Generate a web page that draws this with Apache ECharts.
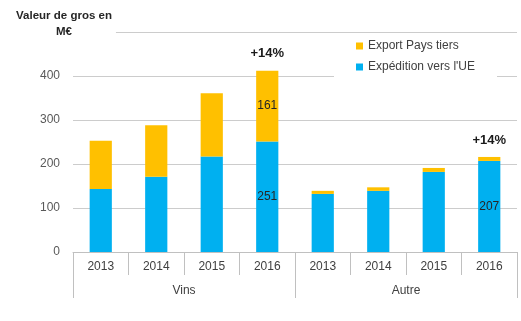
<!DOCTYPE html>
<html>
<head>
<meta charset="utf-8">
<script src="https://cdn.jsdelivr.net/npm/echarts@6/dist/echarts.min.js"></script>
<style>
  html, body { margin: 0; padding: 0; background: #fff; }
  #chart { width: 521px; height: 321px; }
</style>
</head>
<body>
<div id="chart"></div>
<script>
// Years shown under each bar, grouped by product family
const years = ['2013', '2014', '2015', '2016', '2013', '2014', '2015', '2016'];
const groups = ['Vins', 'Autre'];

// Values in M€ (wholesale value)
const expeditionUE = [143, 171, 217, 251, 132, 139, 182, 207];
const exportTiers = [110, 117, 144, 161, 7, 8, 9, 9];

// Growth notes above the last year of each group
const growthNotes = ['', '', '', '+14%', '', '', '', '+14%'];

// Values written inside the bars
const ueLabelShown = [false, false, false, true, false, false, false, true];
const tiersLabelShown = [false, false, false, true, false, false, false, false];

const yTicks = [0, 100, 200, 300, 400, 500];

const FONT = '"Liberation Sans", Arial, sans-serif';

const chart = echarts.init(document.getElementById('chart'), null, { renderer: 'canvas' });

const growthPoints = [];
growthNotes.forEach((note, i) => {
  if (note) {
    growthPoints.push({ coord: [i, expeditionUE[i] + exportTiers[i]], value: note });
  }
});

chart.setOption({
  animation: false,
  textStyle: { fontFamily: FONT },
  title: {
    text: 'Valeur de gros en\nM€',
    left: 60,
    top: 6,
    textAlign: 'center',
    backgroundColor: '#ffffff',
    padding: [2, 4, 6, 4],
    textStyle: {
      fontFamily: FONT,
      fontSize: 11.5,
      fontWeight: 'bold',
      color: '#262626',
      lineHeight: 16
    }
  },
  legend: {
    orient: 'vertical',
    left: 334,
    top: 34,
    data: ['Export Pays tiers', 'Expédition vers l\'UE'],
    itemWidth: 7,
    itemHeight: 7,
    itemGap: 7,
    icon: 'rect',
    backgroundColor: '#ffffff',
    padding: [5, 22, 10, 22],
    textStyle: {
      fontFamily: FONT,
      fontSize: 12,
      color: '#404040',
      lineHeight: 14
    }
  },
  grid: { left: 73, right: 4, top: 32, bottom: 69 },
  xAxis: [
    {
      type: 'category',
      data: years,
      axisLine: { lineStyle: { color: '#c0c0c0', width: 1 } },
      axisTick: { show: true, length: 23, interval: 0, lineStyle: { color: '#c0c0c0' } },
      axisLabel: { margin: 9, fontSize: 12, color: '#404040', fontFamily: FONT, interval: 0 }
    },
    {
      type: 'category',
      data: groups,
      position: 'bottom',
      axisLine: { show: false },
      axisTick: { show: true, length: 46, interval: 0, lineStyle: { color: '#c0c0c0' } },
      axisLabel: { margin: 33, fontSize: 12, color: '#404040', fontFamily: FONT, interval: 0 }
    }
  ],
  yAxis: {
    type: 'value',
    min: 0,
    max: 500,
    interval: 100,
    axisLine: { show: false },
    axisTick: { show: false },
    axisLabel: {
      margin: 13,
      fontSize: 12,
      color: '#595959',
      fontFamily: FONT,
      formatter: v => (v === yTicks[yTicks.length - 1] ? '' : String(v))
    },
    splitLine: { lineStyle: { color: '#cccccc', width: 1 } }
  },
  series: [
    {
      name: 'Expédition vers l\'UE',
      type: 'bar',
      stack: 'total',
      barWidth: '40%',
      itemStyle: { color: '#00B0F0' },
      data: expeditionUE.map((v, i) => ({
        value: v,
        label: {
          show: ueLabelShown[i],
          position: 'inside',
          color: '#262626',
          fontSize: 12,
          fontFamily: FONT
        }
      }))
    },
    {
      name: 'Export Pays tiers',
      type: 'bar',
      stack: 'total',
      barWidth: '40%',
      itemStyle: { color: '#FFC000' },
      data: exportTiers.map((v, i) => ({
        value: v,
        label: {
          show: tiersLabelShown[i],
          position: 'inside',
          color: '#262626',
          fontSize: 12,
          fontFamily: FONT
        }
      })),
      markPoint: {
        symbol: 'circle',
        symbolSize: 1,
        itemStyle: { color: 'rgba(0,0,0,0)' },
        label: {
          show: true,
          position: 'top',
          distance: 10,
          formatter: p => p.value,
          fontSize: 13,
          fontWeight: 'bold',
          color: '#1a1a1a',
          fontFamily: FONT
        },
        data: growthPoints
      }
    }
  ]
});
</script>
</body>
</html>
